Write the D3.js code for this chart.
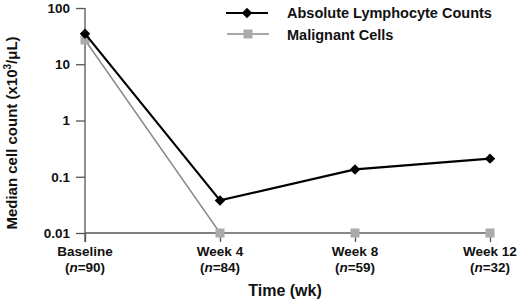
<!DOCTYPE html>
<html>
<head>
<meta charset="utf-8">
<script src="https://cdn.jsdelivr.net/npm/d3@7"></script>
<style>
body { margin: 0; background: #fff; }
text { font-family: "Liberation Sans", Arial, sans-serif; font-weight: bold; }
</style>
</head>
<body>
<script>
var timepoints = ["Baseline", "Week 4", "Week 8", "Week 12"];
var nCounts = [90, 84, 59, 32];
var alcValues = [35, 0.038, 0.135, 0.21];
var malignantValues = [27, 0.01, 0.01, 0.01];
var yTicks = [0.01, 0.1, 1, 10, 100];
var seriesNames = ["Absolute Lymphocyte Counts", "Malignant Cells"];

var w = 520, h = 301;

var svg = d3.select("body").append("svg")
	.attr("width", w)
	.attr("height", h);

var xScale = d3.scalePoint()
	.domain(timepoints)
	.range([85, 490]);

var yScale = d3.scaleLog()
	.domain([0.01, 100])
	.range([233, 8]);

// y axis
var yAxis = d3.axisLeft(yScale)
	.tickValues(yTicks)
	.tickFormat(function(d){ return d3.format("~g")(d); })
	.tickSize(9)
	.tickPadding(6);

var yg = svg.append("g")
	.attr("transform", "translate(85,0)")
	.call(yAxis);
yg.select(".domain").attr("d", "M0,8V242").attr("stroke", "#555").attr("stroke-width", 1.3);
yg.selectAll(".tick line").attr("stroke", "#555").attr("stroke-width", 1.3);
yg.selectAll(".tick text").attr("font-size", 13.5).attr("fill", "#111");

// x axis
var xAxis = d3.axisBottom(xScale)
	.tickSize(9)
	.tickFormat("");

var xg = svg.append("g")
	.attr("transform", "translate(0,233)")
	.call(xAxis);
xg.select(".domain").attr("d", "M85,0H490").attr("stroke", "#555").attr("stroke-width", 1.3);
xg.selectAll(".tick line").attr("stroke", "#555").attr("stroke-width", 1.3);

timepoints.forEach(function(t, i){
	var x = xScale(t);
	svg.append("text")
		.attr("x", x).attr("y", 256)
		.attr("text-anchor", "middle")
		.attr("font-size", 13.5)
		.attr("fill", "#111")
		.text(t);
	var lab = svg.append("text")
		.attr("x", x).attr("y", 272)
		.attr("text-anchor", "middle")
		.attr("font-size", 13.5)
		.attr("fill", "#111");
	lab.append("tspan").text("(");
	lab.append("tspan").attr("font-style", "italic").text("n");
	lab.append("tspan").text("=" + nCounts[i] + ")");
});

// axis titles
svg.append("text")
	.attr("x", 285).attr("y", 296)
	.attr("text-anchor", "middle")
	.attr("font-size", 16)
	.attr("fill", "#111")
	.text("Time (wk)");

var yt = svg.append("text")
	.attr("transform", "translate(17,133) rotate(-90)")
	.attr("text-anchor", "middle")
	.attr("font-size", 15)
	.attr("fill", "#111");
yt.append("tspan").text("Median cell count (x10");
yt.append("tspan").attr("font-size", 10).attr("dy", -6).text("3");
yt.append("tspan").attr("dy", 6).text("/\u03bcL)");

var line = d3.line()
	.x(function(d, i){ return xScale(timepoints[i]); })
	.y(function(d){ return yScale(d); });

// malignant series
svg.append("path")
	.datum(malignantValues)
	.attr("d", line)
	.attr("fill", "none")
	.attr("stroke", "#8a8a8a")
	.attr("stroke-width", 1.5);

svg.selectAll(".mal")
	.data(malignantValues)
	.enter().append("rect")
	.attr("class", "mal")
	.attr("x", function(d, i){ return xScale(timepoints[i]) - 4.5; })
	.attr("y", function(d){ return yScale(d) - 4.5; })
	.attr("width", 9).attr("height", 9)
	.attr("fill", "#aaa");

// ALC series
svg.append("path")
	.datum(alcValues)
	.attr("d", line)
	.attr("fill", "none")
	.attr("stroke", "#000")
	.attr("stroke-width", 2.2);

var diamond = d3.symbol().type(d3.symbolDiamond2).size(70);
svg.selectAll(".alc")
	.data(alcValues)
	.enter().append("path")
	.attr("class", "alc")
	.attr("transform", function(d, i){ return "translate(" + xScale(timepoints[i]) + "," + yScale(d) + ")"; })
	.attr("d", diamond)
	.attr("fill", "#000");

// legend
var legend = svg.append("g");
legend.append("line")
	.attr("x1", 226).attr("x2", 268).attr("y1", 13).attr("y2", 13)
	.attr("stroke", "#000").attr("stroke-width", 2.2);
legend.append("path")
	.attr("transform", "translate(247,13)")
	.attr("d", diamond)
	.attr("fill", "#000");
legend.append("line")
	.attr("x1", 227).attr("x2", 269).attr("y1", 34).attr("y2", 34)
	.attr("stroke", "#8a8a8a").attr("stroke-width", 1.5);
legend.append("rect")
	.attr("x", 243.5).attr("y", 29.5).attr("width", 9).attr("height", 9)
	.attr("fill", "#aaa");

seriesNames.forEach(function(s, i){
	legend.append("text")
		.attr("x", 287).attr("y", 18 + i * 22)
		.attr("font-size", 14.5)
		.attr("fill", "#111")
		.text(s);
});
</script>
</body>
</html>
